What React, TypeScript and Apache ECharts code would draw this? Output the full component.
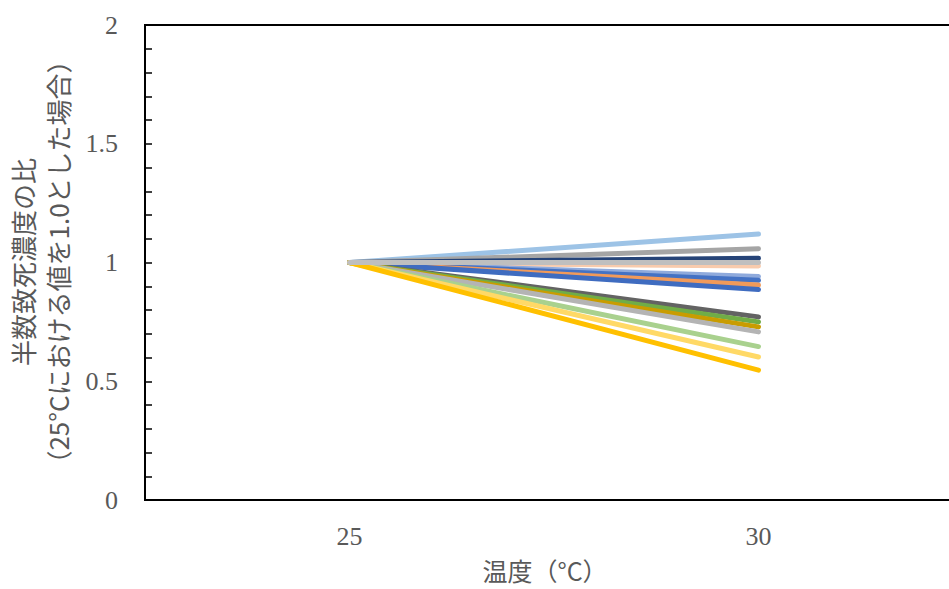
import React, { useEffect, useRef } from "react";
import * as echarts from "echarts";

const categories = ["25", "30"];
const seriesNames = [
  "系列1", "系列2", "系列3", "系列4", "系列5", "系列6", "系列7", "系列8",
  "系列9", "系列10", "系列11", "系列12", "系列13", "系列14", "系列15", "系列16",
];
const startValues = [1, 1, 1, 1, 1, 1, 1, 1, 1, 1, 1, 1, 1, 1, 1, 1];
const endValues = [
  1.12, 1.058, 1.018, 0.985, 0.941, 0.925, 0.905, 0.886,
  0.771, 0.75, 0.729, 0.708, 0.646, 0.602, 0.547, 1.0,
];
const colors = [
  "#9DC3E6", "#A5A5A5", "#264478", "#F8CBAD", "#8FAADC", "#4472C4", "#F19A5A", "#3F6CC0",
  "#636363", "#70AD47", "#C99C00", "#B4B4B4", "#A9D18E", "#FFD966", "#FFC000", "#BFBFBF",
];
const yTitleLines = ["半数致死濃度の比", "（25°Cにおける値を1.0とした場合）"];
const xTitle = "温度（°C）";

export default function App() {
  const ref = useRef<HTMLDivElement>(null);
  useEffect(() => {
    if (!ref.current) return;
    const chart = echarts.init(ref.current, undefined, { renderer: "svg" });
    const series = seriesNames.map((name, i) => ({
      name,
      type: "line",
      data: [startValues[i], endValues[i]],
      symbol: "none",
      lineStyle: { color: colors[i], width: 5, cap: "round", join: "round" },
      itemStyle: { color: colors[i] },
      z: 2 + i,
    }));
    chart.setOption({
      animation: false,
      backgroundColor: "#ffffff",
      grid: {
        left: 145,
        right: 37,
        top: 25,
        bottom: 89,
        show: true,
        borderColor: "#000000",
        borderWidth: 2,
      },
      xAxis: {
        type: "category",
        data: categories,
        boundaryGap: true,
        axisLine: { lineStyle: { color: "#000000", width: 2 } },
        axisTick: { inside: true, length: 8, lineStyle: { color: "#000000", width: 2 } },
        axisLabel: {
          fontFamily: "Liberation Serif",
          fontSize: 26,
          color: "#595959",
          margin: 23,
        },
        splitLine: { show: false },
      },
      yAxis: {
        type: "value",
        min: 0,
        max: 2,
        interval: 0.1,
        axisLine: { show: true, lineStyle: { color: "#000000", width: 2 } },
        axisTick: { show: true, inside: true, length: 7, lineStyle: { color: "#000000", width: 1.5 } },
        axisLabel: {
          fontFamily: "Liberation Serif",
          fontSize: 26,
          color: "#595959",
          margin: 27,
          formatter: (v: number) => {
            const d = v * 2;
            return Math.abs(Math.round(d) - d) < 1e-6 ? String(Math.round(v * 10) / 10) : "";
          },
        },
        splitLine: { show: false },
      },
      graphic: [
        {
          type: "text",
          x: 40,
          y: 262,
          rotation: Math.PI / 2,
          style: {
            text: yTitleLines.join("\n"),
            fill: "#595959",
            font: '26px "Noto Sans CJK JP"',
            textAlign: "center",
            textVerticalAlign: "middle",
            lineHeight: 35,
          },
        },
        {
          type: "text",
          x: 545,
          y: 570,
          style: {
            text: xTitle,
            fill: "#595959",
            font: '25px "Noto Sans CJK JP"',
            textAlign: "center",
            textVerticalAlign: "middle",
            lineHeight: 25,
          },
        },
      ],
      series,
    });
    return () => chart.dispose();
  }, []);
  return (
    <div
      style={{
        position: "fixed",
        left: 0,
        top: 0,
        width: 949,
        height: 589,
        overflow: "hidden",
        background: "#ffffff",
      }}
    >
      <div ref={ref} style={{ width: 1000, height: 589 }} />
    </div>
  );
}
